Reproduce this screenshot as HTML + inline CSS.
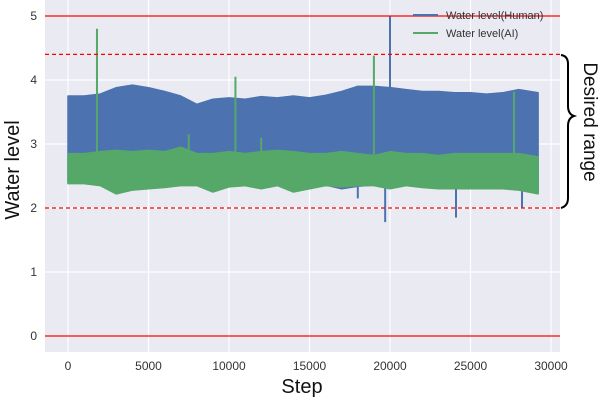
<!DOCTYPE html>
<html><head><meta charset="utf-8">
<style>
body{margin:0;background:#fff;}
svg{display:block;font-family:"Liberation Sans",sans-serif;}
</style></head>
<body>
<svg id="chart" width="600" height="400" xmlns="http://www.w3.org/2000/svg">
  <rect x="45" y="0" width="515" height="352" fill="#EAEAF2"/>
  <g id="grid"></g>
  <g id="series"></g>
  <g id="refs"></g>
  <g id="ticks" font-size="12" fill="#333"></g>
  <text x="302" y="393" text-anchor="middle" font-size="20" fill="#111">Step</text>
  <text transform="translate(19,170) rotate(-90)" text-anchor="middle" font-size="20" fill="#111">Water level</text>
  <g>
    <line x1="413" y1="15" x2="438" y2="15" stroke="#4C72B0" stroke-width="2"/>
    <text x="446" y="19" font-size="11" fill="#333">Water level(Human)</text>
    <line x1="413" y1="33" x2="438" y2="33" stroke="#55A868" stroke-width="2"/>
    <text x="446" y="37" font-size="11" fill="#333">Water level(AI)</text>
  </g>
  <path d="M561,55 Q568,56 568,64 L568,106 Q568,114 574,116 Q568,118 568,126 L568,198 Q568,206 561,208" fill="none" stroke="#000" stroke-width="2"/>
  <text transform="translate(584,122) rotate(90)" text-anchor="middle" font-size="19" fill="#111">Desired range</text>
</svg>
<script>
const steps = [0,1000,2000,3000,4000,5000,6000,7000,8000,9000,10000,11000,12000,13000,14000,15000,16000,17000,18000,19000,20000,21000,22000,23000,24000,25000,26000,27000,28000,29200];
const humanHigh = [3.75,3.75,3.78,3.88,3.92,3.88,3.82,3.75,3.62,3.7,3.72,3.7,3.74,3.72,3.75,3.72,3.76,3.82,3.9,3.9,3.88,3.85,3.82,3.82,3.8,3.8,3.78,3.8,3.85,3.8];
const humanLow = [2.4,2.4,2.38,2.3,2.3,2.32,2.35,2.36,2.36,2.3,2.35,2.36,2.33,2.36,2.28,2.3,2.36,2.3,2.34,2.36,2.32,2.36,2.34,2.32,2.32,2.32,2.32,2.32,2.3,2.25];
const aiHigh = [2.85,2.85,2.88,2.9,2.88,2.9,2.88,2.95,2.85,2.85,2.88,2.85,2.88,2.9,2.88,2.85,2.85,2.88,2.85,2.82,2.88,2.85,2.85,2.82,2.85,2.85,2.85,2.85,2.85,2.8];
const aiLow = [2.38,2.38,2.35,2.22,2.28,2.3,2.32,2.35,2.35,2.25,2.33,2.35,2.3,2.35,2.25,2.3,2.35,2.33,2.35,2.35,2.3,2.35,2.32,2.3,2.3,2.3,2.3,2.3,2.28,2.22];
const aiSpikeSteps = [1800,7500,10400,12000,19000,27700];
const aiSpikeValues = [4.8,3.15,4.05,3.1,4.38,3.82];
const humanSpikeSteps = [3000,15000,18000,19700,20000,24100,28200];
const humanSpikeValues = [2.3,2.3,2.15,1.78,5.0,1.85,2.0];
const xTicks = [0,5000,10000,15000,20000,25000,30000];
const yTicks = [0,1,2,3,4,5];
const solidRefs = [0,5];
const dashedRefs = [2,4.4];

const NS = "http://www.w3.org/2000/svg";
const X = v => 68 + v * 483 / 30000;
const Y = v => 336 - v * 64;
function mk(tag, attrs, parent){const e=document.createElementNS(NS,tag);for(const k in attrs)e.setAttribute(k,attrs[k]);parent.appendChild(e);return e;}
const grid=document.getElementById('grid'), series=document.getElementById('series'), refs=document.getElementById('refs'), ticks=document.getElementById('ticks');

xTicks.forEach(t=>{
  const l=mk('line',{x1:X(t),x2:X(t),y1:0,y2:352,stroke:'#fff','stroke-width':1.2},grid);
  
  
  const tx=mk('text',{x:X(t),y:370,'text-anchor':'middle'},ticks);
  tx.textContent=t;
  
  
});
yTicks.forEach(t=>{
  const l=mk('line',{x1:45,x2:560,y1:Y(t),y2:Y(t),stroke:'#fff','stroke-width':1.2},grid);
  
  
  const tx=mk('text',{x:37,y:Y(t)+4,'text-anchor':'end'},ticks);
  tx.textContent=t;
  
  
});

function band(hi, lo, color, name){
  let d='M'+steps.map((s,i)=>X(s)+','+Y(hi[i])).join(' L');
  for(let i=steps.length-1;i>=0;i--) d+=' L'+X(steps[i])+','+Y(lo[i]);
  const p=mk('path',{d:d+'Z',fill:color,stroke:color,'stroke-width':1.5,'stroke-linejoin':'round'},series);
  
  
}
band(humanHigh,humanLow,'#4C72B0','human-band');
humanSpikeSteps.forEach((s,i)=>{
  const base = humanSpikeValues[i] > 3 ? 3.7 : 2.4;
  const l=mk('line',{x1:X(s),x2:X(s),y1:Y(base),y2:Y(humanSpikeValues[i]),stroke:'#4C72B0','stroke-width':2},series);
  
  
});
band(aiHigh,aiLow,'#55A868','ai-band');
aiSpikeSteps.forEach((s,i)=>{
  const l=mk('line',{x1:X(s),x2:X(s),y1:Y(2.8),y2:Y(aiSpikeValues[i]),stroke:'#55A868','stroke-width':2},series);
  
  
});
solidRefs.forEach(v=>{
  const l=mk('line',{x1:45,x2:560,y1:Y(v),y2:Y(v),stroke:'#FF0000','stroke-width':1.3},refs);
  
  
});
dashedRefs.forEach(v=>{
  const l=mk('line',{x1:45,x2:560,y1:Y(v),y2:Y(v),stroke:'#FF0000','stroke-width':1.2,'stroke-dasharray':'4,3'},refs);
  
  
});
</script>
</body></html>
